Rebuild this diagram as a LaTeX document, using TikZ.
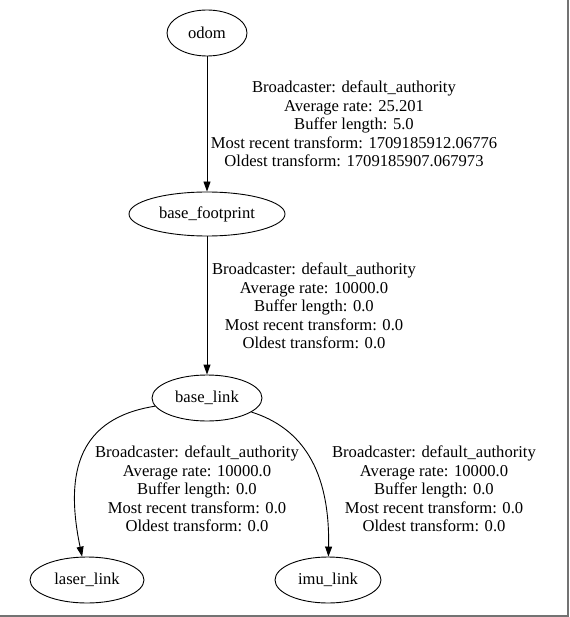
\documentclass[tikz,border=0pt]{standalone}
\usepackage{fontspec}
\setmainfont{Liberation Serif}
\usetikzlibrary{shapes.geometric,arrows.meta}
\begin{document}
\begin{tikzpicture}[x=1pt,y=-1pt,
  frame/.style={ellipse,draw,line width=0.9pt,inner sep=0pt,font=\fontsize{16.6}{18}\selectfont},
  lbl/.style={align=center,inner sep=0pt,font=\fontsize{16.6}{18.4}\selectfont},
  edge/.style={draw,line width=0.9pt,-{Triangle[length=10pt,width=7pt]}}]
\useasboundingbox (0,0) rectangle (569,617);
\draw[line width=1.6pt,color=black!55] (568,0) -- (568,616) -- (0,616);
\node[frame,minimum width=80pt,minimum height=46pt] (odom) at (207,33) {odom};
\node[frame,minimum width=156pt,minimum height=44pt] (bf) at (207,214) {base\_footprint};
\node[frame,minimum width=110pt,minimum height=46pt] (bl) at (207,398) {base\_link};
\node[frame,minimum width=114pt,minimum height=46pt] (laser) at (87,580) {laser\_link};
\node[frame,minimum width=106pt,minimum height=46pt] (imu) at (328,580) {imu\_link};
\draw[edge] (odom) -- (bf);
\draw[edge] (bf) -- (bl);
\draw[edge] (bl) .. controls (80,418) and (64,470) .. (laser);
\draw[edge] (bl) .. controls (302,428) and (330,470) .. (imu);
\node[lbl] (l1) at (354,124) {Broadcaster: default\_authority\\Average rate: 25.201\\Buffer length: 5.0\\Most recent transform: 1709185912.06776\\Oldest transform: 1709185907.067973};
\node[lbl] (l2) at (314,306) {Broadcaster: default\_authority\\Average rate: 10000.0\\Buffer length: 0.0\\Most recent transform: 0.0\\Oldest transform: 0.0};
\node[lbl] (l3) at (197,489) {Broadcaster: default\_authority\\Average rate: 10000.0\\Buffer length: 0.0\\Most recent transform: 0.0\\Oldest transform: 0.0};
\node[lbl] (l4) at (434,489) {Broadcaster: default\_authority\\Average rate: 10000.0\\Buffer length: 0.0\\Most recent transform: 0.0\\Oldest transform: 0.0};
\end{tikzpicture}
\end{document}
